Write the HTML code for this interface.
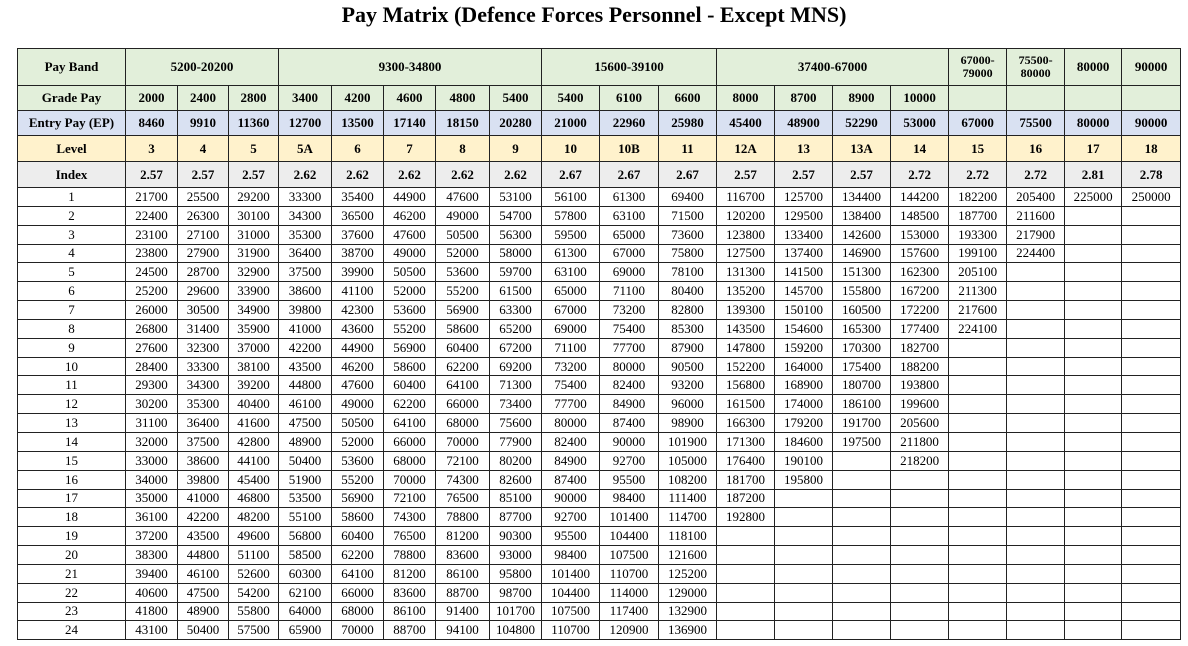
<!DOCTYPE html>
<html><head><meta charset="utf-8"><style>
body{margin:0;background:#fff;width:1188px;height:646px;overflow:hidden;font-family:"Liberation Serif",serif}
h1{position:absolute;top:2px;left:0;width:1188px;margin:0;text-align:center;font-size:22px;font-weight:bold}
table{position:absolute;left:17px;top:48px;border-collapse:collapse;table-layout:fixed;width:1163px}
td{border:1px solid #222;text-align:center;font-size:13px;padding:0;line-height:14px;overflow:hidden;white-space:nowrap}
.h td{font-weight:bold}
.pb td{background:#e2efda;height:36px}
.gp td{background:#e2efda;height:24px}
.ep td{background:#d9e1f2;height:24px}
.lv td{background:#fff2cc;height:25px}
.ix td{background:#ededed;height:25px}
.d td{height:17.85px}
.sm{font-size:12px;line-height:13px}
</style></head><body>
<h1>Pay Matrix (Defence Forces Personnel - Except MNS)</h1>
<table>
<colgroup><col style="width:108px"><col style="width:52px"><col style="width:51px"><col style="width:50px"><col style="width:53px"><col style="width:52px"><col style="width:52px"><col style="width:54px"><col style="width:52px"><col style="width:58px"><col style="width:59px"><col style="width:58px"><col style="width:58px"><col style="width:58px"><col style="width:58px"><col style="width:58px"><col style="width:58px"><col style="width:58px"><col style="width:57px"><col style="width:59px"></colgroup>
<tr class="h pb"><td>Pay Band</td><td colspan="3">5200-20200</td><td colspan="5">9300-34800</td><td colspan="3">15600-39100</td><td colspan="4">37400-67000</td><td class="sm">67000-<br>79000</td><td class="sm">75500-<br>80000</td><td>80000</td><td>90000</td></tr>
<tr class="h gp"><td>Grade Pay</td><td>2000</td><td>2400</td><td>2800</td><td>3400</td><td>4200</td><td>4600</td><td>4800</td><td>5400</td><td>5400</td><td>6100</td><td>6600</td><td>8000</td><td>8700</td><td>8900</td><td>10000</td><td></td><td></td><td></td><td></td></tr>
<tr class="h ep"><td>Entry Pay (EP)</td><td>8460</td><td>9910</td><td>11360</td><td>12700</td><td>13500</td><td>17140</td><td>18150</td><td>20280</td><td>21000</td><td>22960</td><td>25980</td><td>45400</td><td>48900</td><td>52290</td><td>53000</td><td>67000</td><td>75500</td><td>80000</td><td>90000</td></tr>
<tr class="h lv"><td>Level</td><td>3</td><td>4</td><td>5</td><td>5A</td><td>6</td><td>7</td><td>8</td><td>9</td><td>10</td><td>10B</td><td>11</td><td>12A</td><td>13</td><td>13A</td><td>14</td><td>15</td><td>16</td><td>17</td><td>18</td></tr>
<tr class="h ix"><td>Index</td><td>2.57</td><td>2.57</td><td>2.57</td><td>2.62</td><td>2.62</td><td>2.62</td><td>2.62</td><td>2.62</td><td>2.67</td><td>2.67</td><td>2.67</td><td>2.57</td><td>2.57</td><td>2.57</td><td>2.72</td><td>2.72</td><td>2.72</td><td>2.81</td><td>2.78</td></tr>
<tr class="d"><td>1</td><td>21700</td><td>25500</td><td>29200</td><td>33300</td><td>35400</td><td>44900</td><td>47600</td><td>53100</td><td>56100</td><td>61300</td><td>69400</td><td>116700</td><td>125700</td><td>134400</td><td>144200</td><td>182200</td><td>205400</td><td>225000</td><td>250000</td></tr>
<tr class="d"><td>2</td><td>22400</td><td>26300</td><td>30100</td><td>34300</td><td>36500</td><td>46200</td><td>49000</td><td>54700</td><td>57800</td><td>63100</td><td>71500</td><td>120200</td><td>129500</td><td>138400</td><td>148500</td><td>187700</td><td>211600</td><td></td><td></td></tr>
<tr class="d"><td>3</td><td>23100</td><td>27100</td><td>31000</td><td>35300</td><td>37600</td><td>47600</td><td>50500</td><td>56300</td><td>59500</td><td>65000</td><td>73600</td><td>123800</td><td>133400</td><td>142600</td><td>153000</td><td>193300</td><td>217900</td><td></td><td></td></tr>
<tr class="d"><td>4</td><td>23800</td><td>27900</td><td>31900</td><td>36400</td><td>38700</td><td>49000</td><td>52000</td><td>58000</td><td>61300</td><td>67000</td><td>75800</td><td>127500</td><td>137400</td><td>146900</td><td>157600</td><td>199100</td><td>224400</td><td></td><td></td></tr>
<tr class="d"><td>5</td><td>24500</td><td>28700</td><td>32900</td><td>37500</td><td>39900</td><td>50500</td><td>53600</td><td>59700</td><td>63100</td><td>69000</td><td>78100</td><td>131300</td><td>141500</td><td>151300</td><td>162300</td><td>205100</td><td></td><td></td><td></td></tr>
<tr class="d"><td>6</td><td>25200</td><td>29600</td><td>33900</td><td>38600</td><td>41100</td><td>52000</td><td>55200</td><td>61500</td><td>65000</td><td>71100</td><td>80400</td><td>135200</td><td>145700</td><td>155800</td><td>167200</td><td>211300</td><td></td><td></td><td></td></tr>
<tr class="d"><td>7</td><td>26000</td><td>30500</td><td>34900</td><td>39800</td><td>42300</td><td>53600</td><td>56900</td><td>63300</td><td>67000</td><td>73200</td><td>82800</td><td>139300</td><td>150100</td><td>160500</td><td>172200</td><td>217600</td><td></td><td></td><td></td></tr>
<tr class="d"><td>8</td><td>26800</td><td>31400</td><td>35900</td><td>41000</td><td>43600</td><td>55200</td><td>58600</td><td>65200</td><td>69000</td><td>75400</td><td>85300</td><td>143500</td><td>154600</td><td>165300</td><td>177400</td><td>224100</td><td></td><td></td><td></td></tr>
<tr class="d"><td>9</td><td>27600</td><td>32300</td><td>37000</td><td>42200</td><td>44900</td><td>56900</td><td>60400</td><td>67200</td><td>71100</td><td>77700</td><td>87900</td><td>147800</td><td>159200</td><td>170300</td><td>182700</td><td></td><td></td><td></td><td></td></tr>
<tr class="d"><td>10</td><td>28400</td><td>33300</td><td>38100</td><td>43500</td><td>46200</td><td>58600</td><td>62200</td><td>69200</td><td>73200</td><td>80000</td><td>90500</td><td>152200</td><td>164000</td><td>175400</td><td>188200</td><td></td><td></td><td></td><td></td></tr>
<tr class="d"><td>11</td><td>29300</td><td>34300</td><td>39200</td><td>44800</td><td>47600</td><td>60400</td><td>64100</td><td>71300</td><td>75400</td><td>82400</td><td>93200</td><td>156800</td><td>168900</td><td>180700</td><td>193800</td><td></td><td></td><td></td><td></td></tr>
<tr class="d"><td>12</td><td>30200</td><td>35300</td><td>40400</td><td>46100</td><td>49000</td><td>62200</td><td>66000</td><td>73400</td><td>77700</td><td>84900</td><td>96000</td><td>161500</td><td>174000</td><td>186100</td><td>199600</td><td></td><td></td><td></td><td></td></tr>
<tr class="d"><td>13</td><td>31100</td><td>36400</td><td>41600</td><td>47500</td><td>50500</td><td>64100</td><td>68000</td><td>75600</td><td>80000</td><td>87400</td><td>98900</td><td>166300</td><td>179200</td><td>191700</td><td>205600</td><td></td><td></td><td></td><td></td></tr>
<tr class="d"><td>14</td><td>32000</td><td>37500</td><td>42800</td><td>48900</td><td>52000</td><td>66000</td><td>70000</td><td>77900</td><td>82400</td><td>90000</td><td>101900</td><td>171300</td><td>184600</td><td>197500</td><td>211800</td><td></td><td></td><td></td><td></td></tr>
<tr class="d"><td>15</td><td>33000</td><td>38600</td><td>44100</td><td>50400</td><td>53600</td><td>68000</td><td>72100</td><td>80200</td><td>84900</td><td>92700</td><td>105000</td><td>176400</td><td>190100</td><td></td><td>218200</td><td></td><td></td><td></td><td></td></tr>
<tr class="d"><td>16</td><td>34000</td><td>39800</td><td>45400</td><td>51900</td><td>55200</td><td>70000</td><td>74300</td><td>82600</td><td>87400</td><td>95500</td><td>108200</td><td>181700</td><td>195800</td><td></td><td></td><td></td><td></td><td></td><td></td></tr>
<tr class="d"><td>17</td><td>35000</td><td>41000</td><td>46800</td><td>53500</td><td>56900</td><td>72100</td><td>76500</td><td>85100</td><td>90000</td><td>98400</td><td>111400</td><td>187200</td><td></td><td></td><td></td><td></td><td></td><td></td><td></td></tr>
<tr class="d"><td>18</td><td>36100</td><td>42200</td><td>48200</td><td>55100</td><td>58600</td><td>74300</td><td>78800</td><td>87700</td><td>92700</td><td>101400</td><td>114700</td><td>192800</td><td></td><td></td><td></td><td></td><td></td><td></td><td></td></tr>
<tr class="d"><td>19</td><td>37200</td><td>43500</td><td>49600</td><td>56800</td><td>60400</td><td>76500</td><td>81200</td><td>90300</td><td>95500</td><td>104400</td><td>118100</td><td></td><td></td><td></td><td></td><td></td><td></td><td></td><td></td></tr>
<tr class="d"><td>20</td><td>38300</td><td>44800</td><td>51100</td><td>58500</td><td>62200</td><td>78800</td><td>83600</td><td>93000</td><td>98400</td><td>107500</td><td>121600</td><td></td><td></td><td></td><td></td><td></td><td></td><td></td><td></td></tr>
<tr class="d"><td>21</td><td>39400</td><td>46100</td><td>52600</td><td>60300</td><td>64100</td><td>81200</td><td>86100</td><td>95800</td><td>101400</td><td>110700</td><td>125200</td><td></td><td></td><td></td><td></td><td></td><td></td><td></td><td></td></tr>
<tr class="d"><td>22</td><td>40600</td><td>47500</td><td>54200</td><td>62100</td><td>66000</td><td>83600</td><td>88700</td><td>98700</td><td>104400</td><td>114000</td><td>129000</td><td></td><td></td><td></td><td></td><td></td><td></td><td></td><td></td></tr>
<tr class="d"><td>23</td><td>41800</td><td>48900</td><td>55800</td><td>64000</td><td>68000</td><td>86100</td><td>91400</td><td>101700</td><td>107500</td><td>117400</td><td>132900</td><td></td><td></td><td></td><td></td><td></td><td></td><td></td><td></td></tr>
<tr class="d"><td>24</td><td>43100</td><td>50400</td><td>57500</td><td>65900</td><td>70000</td><td>88700</td><td>94100</td><td>104800</td><td>110700</td><td>120900</td><td>136900</td><td></td><td></td><td></td><td></td><td></td><td></td><td></td><td></td></tr>
</table>
</body></html>
